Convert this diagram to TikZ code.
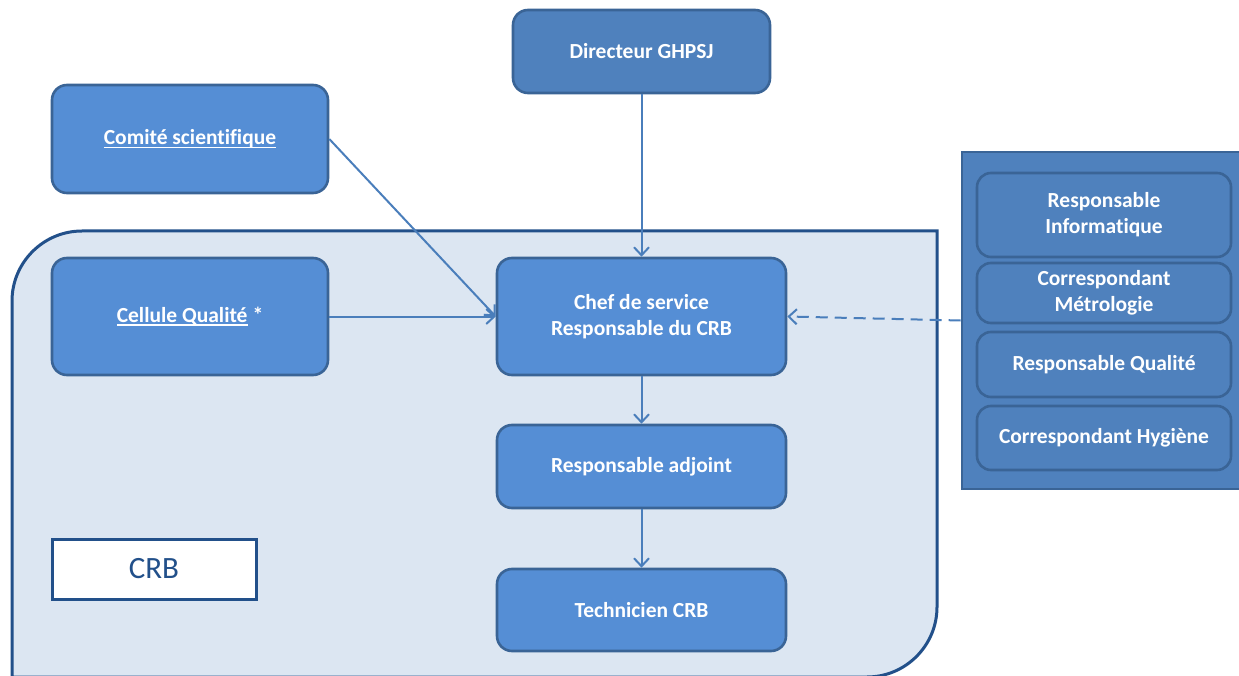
\documentclass[tikz,border=0pt]{standalone}
\usepackage{fontspec}
\setmainfont{Carlito}[Ligatures=NoCommon]
\usetikzlibrary{arrows.meta}
\definecolor{boxfill}{HTML}{558ED5}
\definecolor{boxdraw}{HTML}{3A6496}
\definecolor{dirfill}{HTML}{4F81BD}
\definecolor{crbfill}{HTML}{DCE6F2}
\definecolor{crbdraw}{HTML}{22508A}
\definecolor{linkcol}{HTML}{4A7EBB}
\newcommand{\myul}[1]{\setbox0\hbox{#1}\rlap{\rule[-3pt]{\wd0}{1.3pt}}\box0}
\tikzset{
  orgbox/.style={draw=boxdraw, line width=2.6pt, fill=boxfill, rounded corners=15pt,
    text=white, font=\fontsize{21.5}{26}\selectfont\bfseries, align=center, inner sep=0pt},
  sidebox/.style={orgbox, fill=dirfill, rounded corners=14pt, minimum width=254pt},
  link/.style={draw=linkcol, line width=2pt, -{Straight Barb[length=8pt,width=15pt,line width=2pt]}},
}
\begin{document}
\begin{tikzpicture}[x=1pt,y=-1pt]
\useasboundingbox (0,0) rectangle (1239,676);
% CRB container
\path[fill=crbfill, draw=crbdraw, line width=3pt]
  (12,700) -- (12,301) .. controls (12,262.4) and (43.4,231) .. (82,231)
  -- (937,231) -- (937,607) .. controls (937,645.6) and (905.6,677) .. (867,677)
  -- (12,677) -- cycle;
\node[draw=crbdraw, line width=3pt, fill=white, minimum width=204pt, minimum height=60pt,
  text=crbdraw, font=\fontsize{31}{36}\selectfont, inner sep=0pt] (crb) at (154,569) {CRB};
% main boxes
\node[orgbox, fill=dirfill, minimum width=257pt, minimum height=83pt] (dir) at (641.5,51.5) {Directeur GHPSJ};
\node[orgbox, minimum width=276pt, minimum height=108pt] (comite) at (190,139) {\myul{Comité scientifique}};
\node[orgbox, minimum width=276pt, minimum height=117pt] (cellule) at (190,316.5) {\myul{Cellule Qualité}\hspace{5pt}*};
\node[orgbox, minimum width=289pt, minimum height=117pt] (chef) at (641.5,316.5) {Chef de service\\Responsable du CRB};
\node[orgbox, minimum width=289pt, minimum height=83pt] (adj) at (641.5,466.5) {Responsable adjoint};
\node[orgbox, minimum width=289pt, minimum height=82pt] (tech) at (641.5,610) {Technicien CRB};
% right panel
\node[draw=boxdraw, line width=2.6pt, fill=dirfill, minimum width=283pt, minimum height=337pt, inner sep=0pt] (panel) at (1103.5,320.5) {};
\node[sidebox, minimum height=84pt] (rinfo) at (1104,215) {Responsable\\Informatique};
\node[sidebox, minimum height=60pt] (cmetro) at (1104,293) {Correspondant\\Métrologie};
\node[sidebox, minimum height=65pt] (rqual) at (1104,364.5) {Responsable Qualité};
\node[sidebox, minimum height=64pt] (chyg) at (1104,438) {Correspondant Hygiène};
% connectors
\draw[link] (dir.south) -- (chef.north);
\draw[link] (comite.east) -- (chef.west);
\draw[link] (cellule.east) -- (chef.west);
\draw[link] (chef.south) -- (adj.north);
\draw[link] (adj.south) -- (tech.north);
\draw[link, dash pattern=on 12pt off 7pt] (panel.west) -- (chef.east);
\end{tikzpicture}
\end{document}
